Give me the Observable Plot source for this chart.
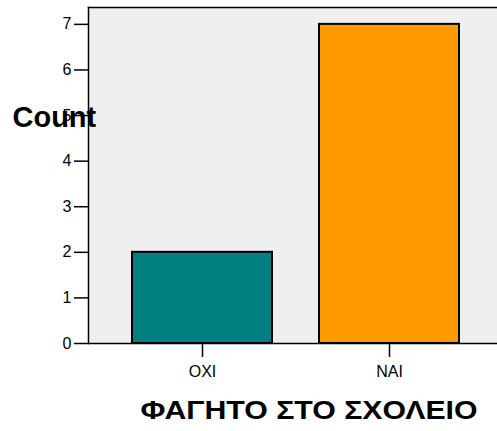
<!DOCTYPE html>
<html><head><meta charset="utf-8">
<script src="https://cdn.jsdelivr.net/npm/d3@7"></script>
<script src="https://cdn.jsdelivr.net/npm/@observablehq/plot@0.6"></script>
<style>body{margin:0;background:#fff;overflow:hidden}</style>
</head><body><div id="chart"></div>
<script>
const categories = ["OXI", "NAI"];
const counts = [2, 7];
const colors = ["#008080", "#ff9900"];
const yTicks = [0, 1, 2, 3, 4, 5, 6, 7];
const yMax = 7.37;
const yLabel = "Count";
const xLabel = "ΦΑΓΗΤΟ ΣΤΟ ΣΧΟΛΕΙΟ";

const data = categories.map((c, i) => ({cat: c, n: counts[i], color: colors[i]}));

const chart = Plot.plot({
  width: 497, height: 431,
  marginLeft: 88, marginRight: 0, marginTop: 7, marginBottom: 88,
  style: {fontFamily: "'Liberation Sans', Arial, sans-serif", fontSize: "16px", color: "black", background: "white", overflow: "visible"},
  x: {domain: categories, range: [88, 504], paddingInner: 0.25, paddingOuter: 0.235, label: null},
  y: {domain: [0, yMax], label: null},
  marks: [
    Plot.frame({fill: "#efefef", stroke: null}),
    Plot.barY(data, {x: "cat", y: "n", fill: "color", stroke: "black", strokeWidth: 2}),
    Plot.frame({anchor: "top", stroke: "black", strokeWidth: 1.5}),
    Plot.frame({anchor: "left", stroke: "black", strokeWidth: 1.5}),
    Plot.ruleY([0], {stroke: "black", strokeWidth: 1.5}),
    Plot.axisY({ticks: yTicks, tickSize: 14, tickPadding: 3, tickFormat: d => d, fontSize: 16, label: null, strokeWidth: 1.5, stroke: "black"}),
    Plot.axisX({tickSize: 14, tickPadding: 8, fontSize: 16, label: null, strokeWidth: 1.5, stroke: "black"}),
    Plot.text([yLabel], {frameAnchor: "top-left", dx: -76, dy: 119, lineAnchor: "bottom", textAnchor: "start", fontWeight: "bold", fontSize: 29, fill: "black"}),
    Plot.text([xLabel], {frameAnchor: "bottom", dx: 16, dy: 75, lineAnchor: "bottom", fontWeight: "bold", fontSize: 25, fill: "black", className: "xtitle"})
  ]
});
const svg = d3.select(chart);
svg.selectAll('g[aria-label="y-axis tick label"], g[aria-label="x-axis tick label"]')
  .attr("font-size", 16).style("font-size", "16px");
svg.selectAll('g[aria-label="text"] text').filter(function() { return this.textContent === xLabel; })
  .attr("textLength", 337).attr("lengthAdjust", "spacingAndGlyphs");
document.getElementById("chart").appendChild(chart);
</script>
</body></html>
